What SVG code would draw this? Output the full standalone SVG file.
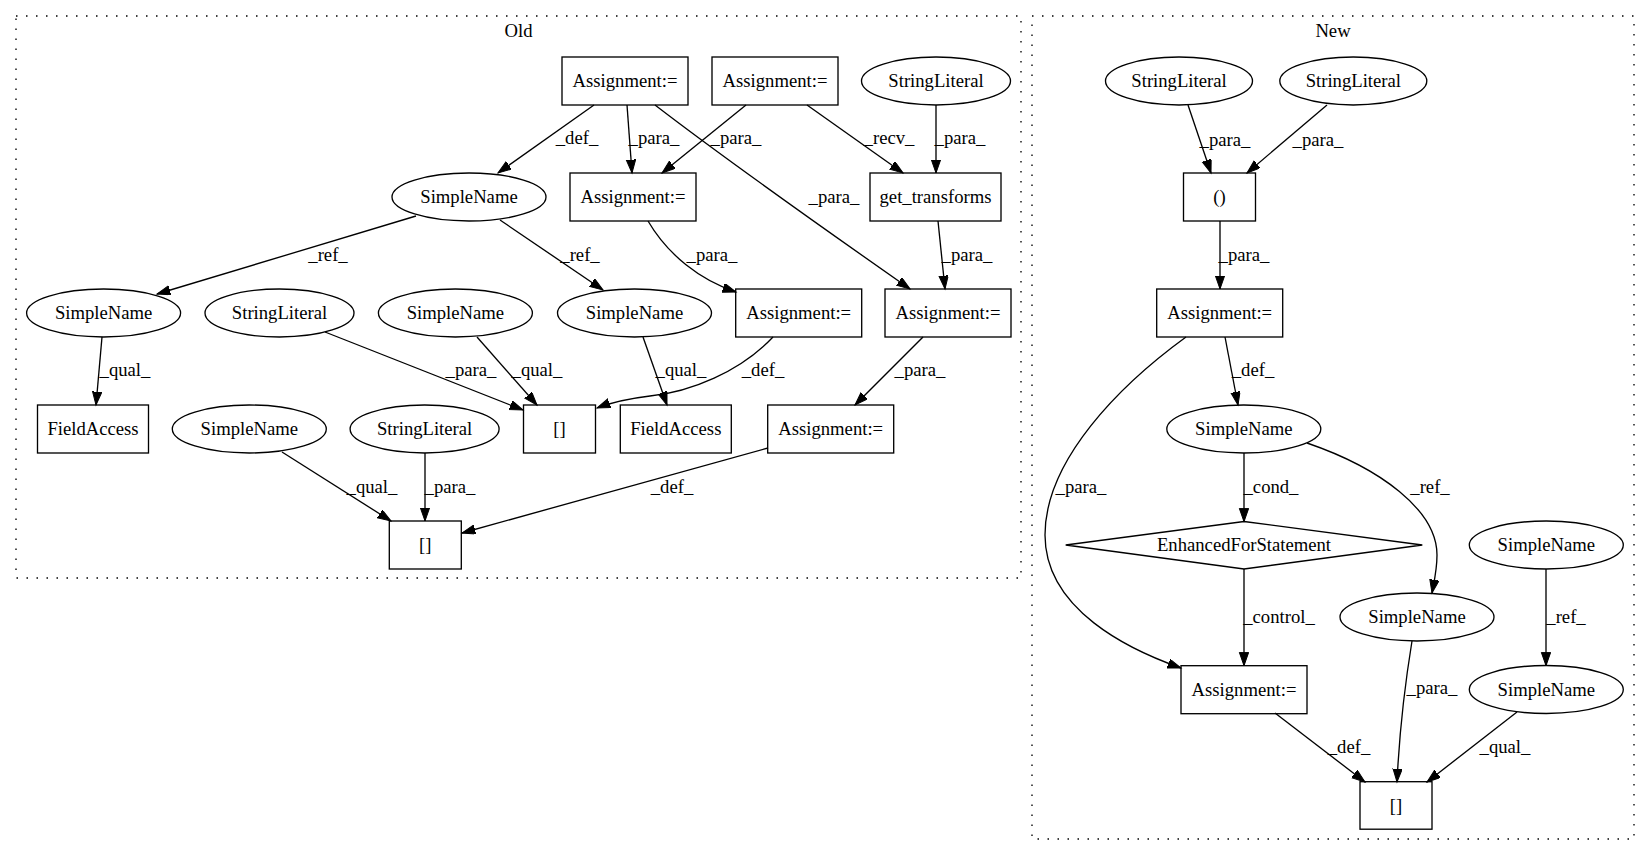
<svg xmlns="http://www.w3.org/2000/svg" width="1651" height="856" viewBox="0 0 1651 856">
<style>
text{font-family:"Liberation Serif","Times New Roman",serif;font-size:18.67px;fill:#000;text-anchor:middle}
.n rect,.n ellipse,.n polygon{fill:none;stroke:#000;stroke-width:1.33}
.e path{fill:none;stroke:#000;stroke-width:1.33;marker-end:url(#arr)}
.cl{fill:none;stroke:#000;stroke-width:1.33;stroke-dasharray:1.5,8.5}
</style>
<defs>
<marker id="arr" markerUnits="userSpaceOnUse" markerWidth="15" markerHeight="11" refX="13.3" refY="4.67" orient="auto">
<path d="M0,0 L13.3,4.67 L0,9.33 z" fill="#000" stroke="#000" stroke-width="1"/>
</marker>
</defs>
<rect width="1651" height="856" fill="#fff"/>
<g id="cluster_old">
<rect class="cl" x="16" y="16" width="1005" height="562"/>
<text x="518.5" y="36.5">Old</text>
</g>
<g id="cluster_new">
<rect class="cl" x="1032" y="16" width="602" height="823"/>
<text x="1333" y="36.5">New</text>
</g>
<g id="edges" class="e">
<path d="M594,105 L498,173"/>
<path d="M627,105 L632,173"/>
<path d="M655,105 C720,155 840,240 910,289"/>
<path d="M746,105 L662,173"/>
<path d="M807,105 L903,173"/>
<path d="M936,105 L936,173"/>
<path d="M938,221 L945,289"/>
<path d="M648,221 C668,255 700,280 736,292"/>
<path d="M416,216 L157,294"/>
<path d="M500,220 L603,290"/>
<path d="M102,337 L96,405"/>
<path d="M325,332 L523,410"/>
<path d="M477,337 L537,405"/>
<path d="M643,337 L667,405"/>
<path d="M773,337 C740,372 690,392 650,396 C625,399 610,403 597,408"/>
<path d="M923,337 L855,405"/>
<path d="M768,448 L462,533"/>
<path d="M282,452 L391,521"/>
<path d="M425,453 L425,521"/>
<path d="M1188,105 L1211,173"/>
<path d="M1327,105 L1247,173"/>
<path d="M1220,221 L1220,289"/>
<path d="M1225,337 L1238,405"/>
<path d="M1186,337 C1120,385 1045,460 1045,535 C1045,610 1130,650 1181,668"/>
<path d="M1244,453 L1244,521.7"/>
<path d="M1307,443 C1380,468 1437,510 1437,555 C1437,570 1434,582 1432,593"/>
<path d="M1244,569 L1244,665.7"/>
<path d="M1275,713 L1365,782"/>
<path d="M1412,641 C1404,690 1399,740 1397,782"/>
<path d="M1546,569 L1546,665.7"/>
<path d="M1517,712 L1427,782"/>
</g>
<g id="edge_labels">
<text x="577" y="144">_def_</text>
<text x="654" y="144">_para_</text>
<text x="736" y="144">_para_</text>
<text x="889" y="144">_recv_</text>
<text x="960" y="144">_para_</text>
<text x="834" y="203">_para_</text>
<text x="580" y="261">_ref_</text>
<text x="712" y="261">_para_</text>
<text x="967" y="261">_para_</text>
<text x="328" y="261">_ref_</text>
<text x="125" y="376">_qual_</text>
<text x="471" y="376">_para_</text>
<text x="537" y="376">_qual_</text>
<text x="681" y="376">_qual_</text>
<text x="763" y="376">_def_</text>
<text x="920" y="376">_para_</text>
<text x="672" y="493">_def_</text>
<text x="372" y="493">_qual_</text>
<text x="450" y="493">_para_</text>
<text x="1225" y="146">_para_</text>
<text x="1318" y="146">_para_</text>
<text x="1244" y="261">_para_</text>
<text x="1253" y="376">_def_</text>
<text x="1081" y="493">_para_</text>
<text x="1271" y="493">_cond_</text>
<text x="1430" y="493">_ref_</text>
<text x="1279" y="623">_control_</text>
<text x="1349" y="753">_def_</text>
<text x="1432" y="694">_para_</text>
<text x="1505" y="753">_qual_</text>
<text x="1566" y="623">_ref_</text>
</g>
<g id="o1" class="n"><rect x="562" y="57" width="126" height="48"/><text x="625" y="87">Assignment:=</text></g>
<g id="o2" class="n"><rect x="712" y="57" width="126" height="48"/><text x="775" y="87">Assignment:=</text></g>
<g id="o3" class="n"><ellipse cx="936" cy="81" rx="74.5" ry="24"/><text x="936" y="87">StringLiteral</text></g>
<g id="o4" class="n"><ellipse cx="469" cy="197" rx="77" ry="24"/><text x="469" y="203">SimpleName</text></g>
<g id="o5" class="n"><rect x="570" y="173" width="126" height="48"/><text x="633" y="203">Assignment:=</text></g>
<g id="o6" class="n"><rect x="870" y="173" width="131" height="48"/><text x="935.5" y="203">get_transforms</text></g>
<g id="o7" class="n"><ellipse cx="103.6" cy="313" rx="77" ry="24"/><text x="103.6" y="319">SimpleName</text></g>
<g id="o8" class="n"><ellipse cx="279.5" cy="313" rx="74.5" ry="24"/><text x="279.5" y="319">StringLiteral</text></g>
<g id="o9" class="n"><ellipse cx="455.4" cy="313" rx="77" ry="24"/><text x="455.4" y="319">SimpleName</text></g>
<g id="o10" class="n"><ellipse cx="634.5" cy="313" rx="77" ry="24"/><text x="634.5" y="319">SimpleName</text></g>
<g id="o11" class="n"><rect x="735.7" y="289" width="126" height="48"/><text x="798.7" y="319">Assignment:=</text></g>
<g id="o12" class="n"><rect x="885" y="289" width="126" height="48"/><text x="948" y="319">Assignment:=</text></g>
<g id="o13" class="n"><rect x="37.5" y="405" width="111" height="48"/><text x="93" y="435">FieldAccess</text></g>
<g id="o14" class="n"><ellipse cx="249.3" cy="429" rx="77" ry="24"/><text x="249.3" y="435">SimpleName</text></g>
<g id="o15" class="n"><ellipse cx="424.6" cy="429" rx="74.5" ry="24"/><text x="424.6" y="435">StringLiteral</text></g>
<g id="o16" class="n"><rect x="523.5" y="405" width="72" height="48"/><text x="559.5" y="435">[]</text></g>
<g id="o17" class="n"><rect x="620.3" y="405" width="111" height="48"/><text x="675.8" y="435">FieldAccess</text></g>
<g id="o18" class="n"><rect x="767.7" y="405" width="126" height="48"/><text x="830.7" y="435">Assignment:=</text></g>
<g id="o19" class="n"><rect x="389.3" y="521" width="72" height="48"/><text x="425.3" y="551">[]</text></g>
<g id="m1" class="n"><ellipse cx="1179" cy="81" rx="73.5" ry="24"/><text x="1179" y="87">StringLiteral</text></g>
<g id="m2" class="n"><ellipse cx="1353.3" cy="81" rx="73.5" ry="24"/><text x="1353.3" y="87">StringLiteral</text></g>
<g id="m3" class="n"><rect x="1183.5" y="173" width="72" height="48"/><text x="1219.5" y="203">()</text></g>
<g id="m4" class="n"><rect x="1156.7" y="289" width="126" height="48"/><text x="1219.7" y="319">Assignment:=</text></g>
<g id="m5" class="n"><ellipse cx="1243.8" cy="429" rx="77" ry="24"/><text x="1243.8" y="435">SimpleName</text></g>
<g id="m6" class="n"><polygon points="1244,521.5 1422.3,545 1244,569 1065.7,545"/><text x="1244" y="551">EnhancedForStatement</text></g>
<g id="m7" class="n"><ellipse cx="1417" cy="617" rx="77" ry="24"/><text x="1417" y="623">SimpleName</text></g>
<g id="m8" class="n"><ellipse cx="1546.3" cy="545" rx="77" ry="24"/><text x="1546.3" y="551">SimpleName</text></g>
<g id="m9" class="n"><rect x="1181" y="665.7" width="126" height="48"/><text x="1244" y="695.5">Assignment:=</text></g>
<g id="m10" class="n"><ellipse cx="1546.3" cy="689.5" rx="77" ry="24"/><text x="1546.3" y="695.5">SimpleName</text></g>
<g id="m11" class="n"><rect x="1360" y="781.7" width="72" height="47.5"/><text x="1396" y="811.5">[]</text></g>
</svg>
